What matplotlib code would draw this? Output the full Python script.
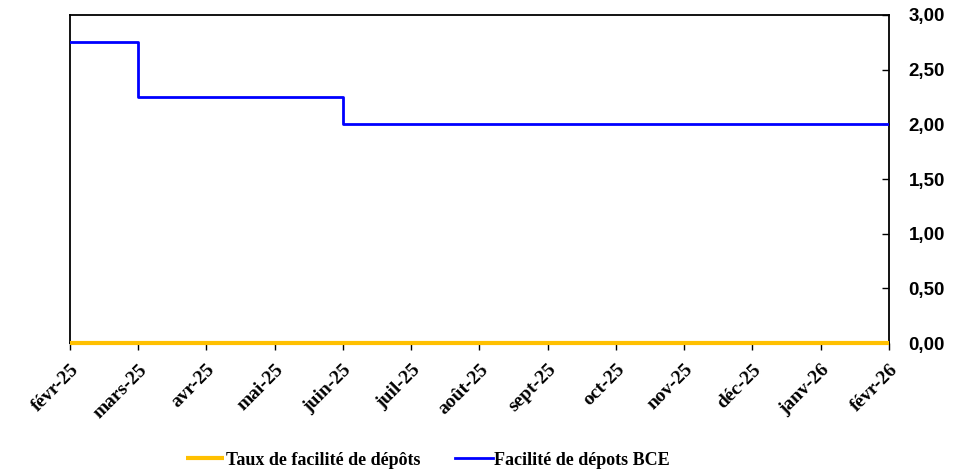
import matplotlib
matplotlib.use('Agg')
import matplotlib.pyplot as plt
from matplotlib.ticker import FuncFormatter

# Données mensuelles (axe par catégories, comme dans Excel)
etiquettes = ['févr-25', 'mars-25', 'avr-25', 'mai-25', 'juin-25', 'juil-25', 'août-25',
              'sept-25', 'oct-25', 'nov-25', 'déc-25', 'janv-26', 'févr-26']
taux_facilite = [0.00] * 13
facilite_bce = [2.75, 2.25, 2.25, 2.25, 2.00, 2.00, 2.00, 2.00, 2.00, 2.00, 2.00, 2.00, 2.00]

x = list(range(len(etiquettes)))

fig = plt.figure(figsize=(9.71, 4.73), dpi=100)
ax = fig.add_axes([0.0721, 0.2748, 0.8434, 0.6935])

ax.plot(x, taux_facilite, color='#FFC000', linewidth=3, label='Taux de facilité de dépôts',
        clip_on=False, zorder=4, solid_capstyle='butt')
ax.plot(x, facilite_bce, color='#0000FF', linewidth=2, drawstyle='steps-post',
        label='Facilité de dépots BCE', zorder=3)

ax.set_xlim(x[0], x[-1])
ax.set_ylim(0, 3)
ax.set_xticks(x)
ax.set_xticklabels(etiquettes, rotation=45, ha='right', rotation_mode='anchor',
                   fontfamily='Liberation Serif', fontweight='bold', fontsize=14)
ax.tick_params(axis='x', direction='out', length=5, width=1, pad=8)

ax.yaxis.tick_right()
ax.set_yticks([0, 0.5, 1, 1.5, 2, 2.5, 3])
ax.yaxis.set_major_formatter(FuncFormatter(lambda v, p: f'{v:.2f}'.replace('.', ',')))
for t in ax.get_yticklabels():
    t.set_fontfamily('Liberation Sans')
    t.set_fontweight('bold')
    t.set_fontsize(13.5)
ax.tick_params(axis='y', direction='in', length=5, width=1, pad=14)

for s in ax.spines.values():
    s.set_linewidth(1.3)
    s.set_color('black')

fig.legend(loc='center', bbox_to_anchor=(0.441, 0.027), ncol=2, frameon=False,
           prop={'family': 'Liberation Serif', 'weight': 'bold', 'size': 13},
           handlelength=2.1, handletextpad=0.1, columnspacing=1.9)

fig.savefig('out.png', dpi=100)
